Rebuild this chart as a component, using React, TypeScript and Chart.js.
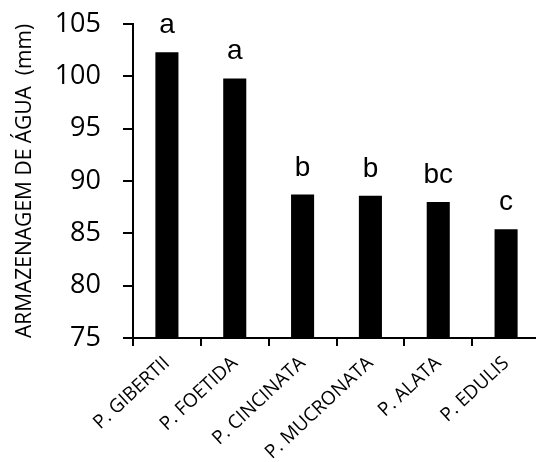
import React, { useEffect, useRef } from "react";
import { Chart, registerables } from "chart.js";

Chart.register(...registerables);

const categories = ["P. GIBERTII", "P. FOETIDA", "P. CINCINATA", "P. MUCRONATA", "P. ALATA", "P. EDULIS"];
const values = [102.3, 99.8, 88.7, 88.6, 88.0, 85.4];
const letters = ["a", "a", "b", "b", "bc", "c"];
const yMin = 75;
const yMax = 105;
const yStep = 5;
const yTitle = "ARMAZENAGEM DE ÁGUA  (mm)";

const letterPlugin = {
  id: "letters",
  afterDatasetsDraw(chart: any) {
    const ctx = chart.ctx;
    const meta = chart.getDatasetMeta(0);
    ctx.save();
    ctx.fillStyle = "#000";
    ctx.font = "28px 'Liberation Sans', Arial, sans-serif";
    ctx.textAlign = "center";
    ctx.textBaseline = "alphabetic";
    meta.data.forEach((bar: any, i: number) => {
      ctx.fillText(letters[i], bar.x, bar.y - 19);
    });
    ctx.restore();
  },
};

export default function App() {
  const ref = useRef<HTMLCanvasElement>(null);
  useEffect(() => {
    if (!ref.current) return;
    const chart = new Chart(ref.current, {
      type: "bar",
      data: {
        labels: categories,
        datasets: [
          {
            data: values,
            backgroundColor: "#000",
            borderWidth: 0,
            categoryPercentage: 1,
            barPercentage: 0.34,
          },
        ],
      },
      options: {
        animation: false,
        responsive: false,
        maintainAspectRatio: false,
        layout: { padding: { left: 0, right: 5, top: 24, bottom: 0 } },
        plugins: { legend: { display: false }, tooltip: { enabled: false } },
        scales: {
          x: {
            offset: true,
            border: { display: true, color: "#000", width: 2 },
            grid: {
              offset: true,
              drawOnChartArea: false,
              drawTicks: true,
              tickLength: 8,
              color: "#000",
              lineWidth: 2,
            },
            ticks: {
              color: "#000",
              minRotation: 43,
              maxRotation: 43,
              autoSkip: false,
              padding: 6,
              font: { family: "'Open Sans', sans-serif", size: 19 },
            },
            afterFit(scale: any) {
              scale.height = 124;
              scale.paddingLeft = 0;
              scale.paddingRight = 0;
            },
          },
          y: {
            min: yMin,
            max: yMax,
            border: { display: true, color: "#000", width: 2 },
            grid: {
              drawOnChartArea: false,
              drawTicks: true,
              tickLength: 10,
              color: "#000",
              lineWidth: 2,
            },
            ticks: {
              stepSize: yStep,
              color: "#000",
              padding: 22,
              font: { family: "'Open Sans', sans-serif", size: 27 },
            },
            title: {
              display: true,
              text: yTitle,
              color: "#000",
              padding: { top: 12, bottom: 0 },
              font: { family: "'Open Sans', sans-serif", size: 21 },
            },
            afterFit(scale: any) {
              scale.width = 133;
              scale.paddingTop = 0;
              scale.paddingBottom = 0;
            },
          },
        },
      },
      plugins: [letterPlugin],
    });
    return () => chart.destroy();
  }, []);
  return (
    <div style={{ position: "fixed", left: 0, top: 0, width: 536, height: 462, overflow: "hidden", background: "#fff" }}>
      <div style={{ width: 545, height: 462 }}>
        <canvas ref={ref} width={545} height={462} style={{ display: "block" }} />
      </div>
    </div>
  );
}
